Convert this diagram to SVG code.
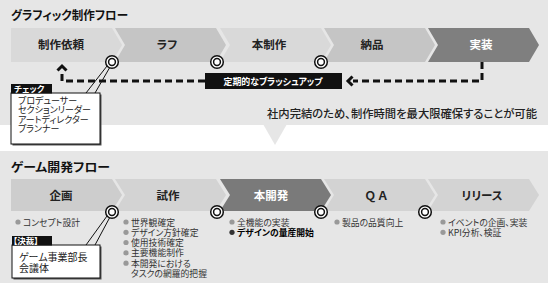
<svg xmlns="http://www.w3.org/2000/svg" width="548" height="287" viewBox="0 0 548 287">
<style>
text{font-family:"Noto Sans CJK JP","Noto Sans",sans-serif;font-feature-settings:"palt";}
.title{font-size:12px;font-weight:700;fill:#111;}
.lbl{font-size:11.5px;font-weight:700;fill:#222;text-anchor:middle;}
.lblw{font-size:11.5px;font-weight:700;fill:#fff;text-anchor:middle;}
.item{font-size:8.8px;fill:#333;}
.itemb{font-weight:700;fill:#000;}
.note{font-size:9px;fill:#222;}
.tag{font-size:8.5px;font-weight:700;fill:#fff;}
.dash{fill:none;stroke:#111;stroke-width:3;stroke-dasharray:7 4;}
.head{fill:none;stroke:#111;stroke-width:3;stroke-linejoin:miter;}
.tail{stroke:#111;stroke-width:1;fill:none;}
.c1{fill:#d9d9d9;}.c2{fill:#c5c5c5;}.cd{fill:#7f7f7f;}
.b1{fill:#cdcdcd;}.b2{fill:#d3d3d3;}
.bul{fill:#999;}
</style>
<defs>
<g id="ring"><circle r="6.3" fill="#fff" stroke="#111" stroke-width="1.5"/><circle r="3.4" fill="#fff" stroke="#111" stroke-width="1.5"/></g>
</defs>
<!-- panels -->
<rect x="0" y="0" width="548" height="125" fill="#e6e6e6"/>
<polygon points="263,124 287,124 275,145" fill="#e6e6e6"/>
<rect x="0" y="151" width="548" height="132" fill="#e6e6e6"/>
<text class="title" x="11" y="20" textLength="117" lengthAdjust="spacingAndGlyphs">グラフィック制作フロー</text>
<text class="title" x="11" y="172" textLength="99" lengthAdjust="spacingAndGlyphs">ゲーム開発フロー</text>

<!-- top flow nodes -->
<g id="g-irai"><path class="c1" d="M11,28 H112 L122,45 L112,62 H11 Z"/><text class="lbl" x="61" y="48.5">制作依頼</text></g>
<g id="g-rough"><path class="c2" d="M115,28 H216 L226,45 L216,62 H115 L125,45 Z"/><text class="lbl" x="167" y="48.5">ラフ</text></g>
<g id="g-honsei"><path class="c1" d="M220,28 H321 L331,45 L321,62 H220 L230,45 Z"/><text class="lbl" x="269" y="48.5">本制作</text></g>
<g id="g-nohin"><path class="c2" d="M324,28 H425 L435,45 L425,62 H324 L334,45 Z"/><text class="lbl" x="372" y="48.5">納品</text></g>
<g id="g-jisso"><path class="cd" d="M428,28 H529 L539,45 L529,62 H428 L438,45 Z"/><text class="lblw" x="481" y="48.5">実装</text></g>

<!-- bottom flow nodes -->
<g id="b-kikaku"><path class="b1" d="M11,179 H112 L122,195 L112,211 H11 Z"/><text class="lbl" x="61" y="199.5">企画</text>
<circle class="bul" cx="18" cy="222" r="2.6"/><text class="item" x="23" y="225.5">コンセプト設計</text></g>
<g id="b-shisaku"><path class="b2" d="M115,179 H216 L226,195 L216,211 H115 L125,195 Z"/><text class="lbl" x="168" y="199.5">試作</text>
<circle class="bul" cx="126" cy="222" r="2.6"/><circle class="bul" cx="126" cy="232.3" r="2.6"/><circle class="bul" cx="126" cy="242.5" r="2.6"/><circle class="bul" cx="126" cy="252.9" r="2.6"/><circle class="bul" cx="126" cy="263.2" r="2.6"/>
<text class="item"><tspan x="131" y="225.5">世界観確定</tspan><tspan x="131" y="235.8">デザイン方針確定</tspan><tspan x="131" y="246">使用技術確定</tspan><tspan x="131" y="256.4">主要機能制作</tspan><tspan x="131" y="266.7">本開発における</tspan><tspan x="131" y="277">タスクの網羅的把握</tspan></text></g>
<g id="b-honkai"><path d="M220,179 H321 L331,195 L321,211 H220 L230,195 Z" fill="#7a7a7a"/><text class="lblw" x="271" y="199.5">本開発</text>
<circle class="bul" cx="232" cy="222" r="2.6"/><circle cx="232" cy="232.3" r="2.6" fill="#333"/>
<text class="item"><tspan x="237" y="225.5">全機能の実装</tspan><tspan class="itemb" x="237" y="235.8">デザインの量産開始</tspan></text></g>
<g id="b-qa"><path class="b2" d="M324,179 H425 L435,195 L425,211 H324 L334,195 Z"/><text class="lbl" x="377" y="199.5" style="font-feature-settings:normal;letter-spacing:1px">ＱＡ</text>
<circle class="bul" cx="337" cy="222" r="2.6"/><text class="item" x="342" y="225.5">製品の品質向上</text></g>
<g id="b-release"><path class="b2" d="M428,179 H529 L539,195 L529,211 H428 L438,195 Z"/><text class="lbl" x="482" y="199.5">リリース</text>
<circle class="bul" cx="443" cy="222" r="2.6"/><circle class="bul" cx="443" cy="232.3" r="2.6"/>
<text class="item"><tspan x="448" y="225.5">イベントの企画、実装</tspan><tspan x="448" y="235.8">KPI分析、検証</tspan></text></g>

<!-- connectors -->
<g id="connectors">
<path class="dash" d="M205,81 H62 V73"/>
<polyline class="head" points="57.5,70.5 62,66 66.5,70.5"/>
<path class="dash" d="M482,62 V81 H353"/>
<polyline class="head" points="352.5,76.5 348,81 352.5,85.5"/>
<line class="tail" x1="107" y1="66" x2="86" y2="93"/>
<line class="tail" x1="110" y1="67" x2="95" y2="93"/>
<line class="tail" x1="107" y1="216" x2="86" y2="245"/>
<line class="tail" x1="110" y1="217" x2="95" y2="245"/>
</g>

<!-- milestone rings -->
<g id="rings">
<use href="#ring" x="112" y="62"/><use href="#ring" x="217" y="62"/><use href="#ring" x="321" y="62"/>
<use href="#ring" x="112" y="212"/><use href="#ring" x="217" y="212"/><use href="#ring" x="321" y="212"/><use href="#ring" x="425" y="212"/>
</g>

<!-- brush-up label -->
<g id="brushup"><rect x="205" y="73" width="137" height="16" fill="#111"/>
<text class="tag" x="223.5" y="84.5" style="font-size:9.5px" textLength="99" lengthAdjust="spacingAndGlyphs">定期的なブラッシュアップ</text></g>

<!-- check callout -->
<g id="check">
<rect x="12.5" y="94.5" width="89" height="51" fill="#555"/>
<rect x="11" y="93" width="89" height="51" fill="#fff" stroke="#111" stroke-width="1"/>
<rect x="11" y="84" width="41" height="9.5" fill="#111"/>
<text class="tag" x="14" y="91.5">チェック</text>
<text class="note"><tspan x="18" y="104">プロデューサー</tspan><tspan x="18" y="113.3">セクションリーダー</tspan><tspan x="18" y="122.6">アートディレクター</tspan><tspan x="18" y="131.9">プランナー</tspan></text>
</g>

<!-- approval callout -->
<g id="kessai">
<rect x="13.5" y="246.5" width="88" height="33" fill="#555"/>
<rect x="12" y="245" width="88" height="33" fill="#fff" stroke="#111" stroke-width="1"/>
<rect x="12" y="236" width="40" height="9.5" fill="#111"/>
<text class="tag" x="13" y="243.5">【決裁】</text>
<text class="note" style="font-size:10px"><tspan x="19" y="261">ゲーム事業部長</tspan><tspan x="19" y="271.5">会議体</tspan></text>
</g>

<text id="summary" x="537" y="117.5" text-anchor="end" style="font-size:11px;font-weight:500;fill:#222" textLength="270" lengthAdjust="spacingAndGlyphs">社内完結のため、制作時間を最大限確保することが可能</text>
</svg>
